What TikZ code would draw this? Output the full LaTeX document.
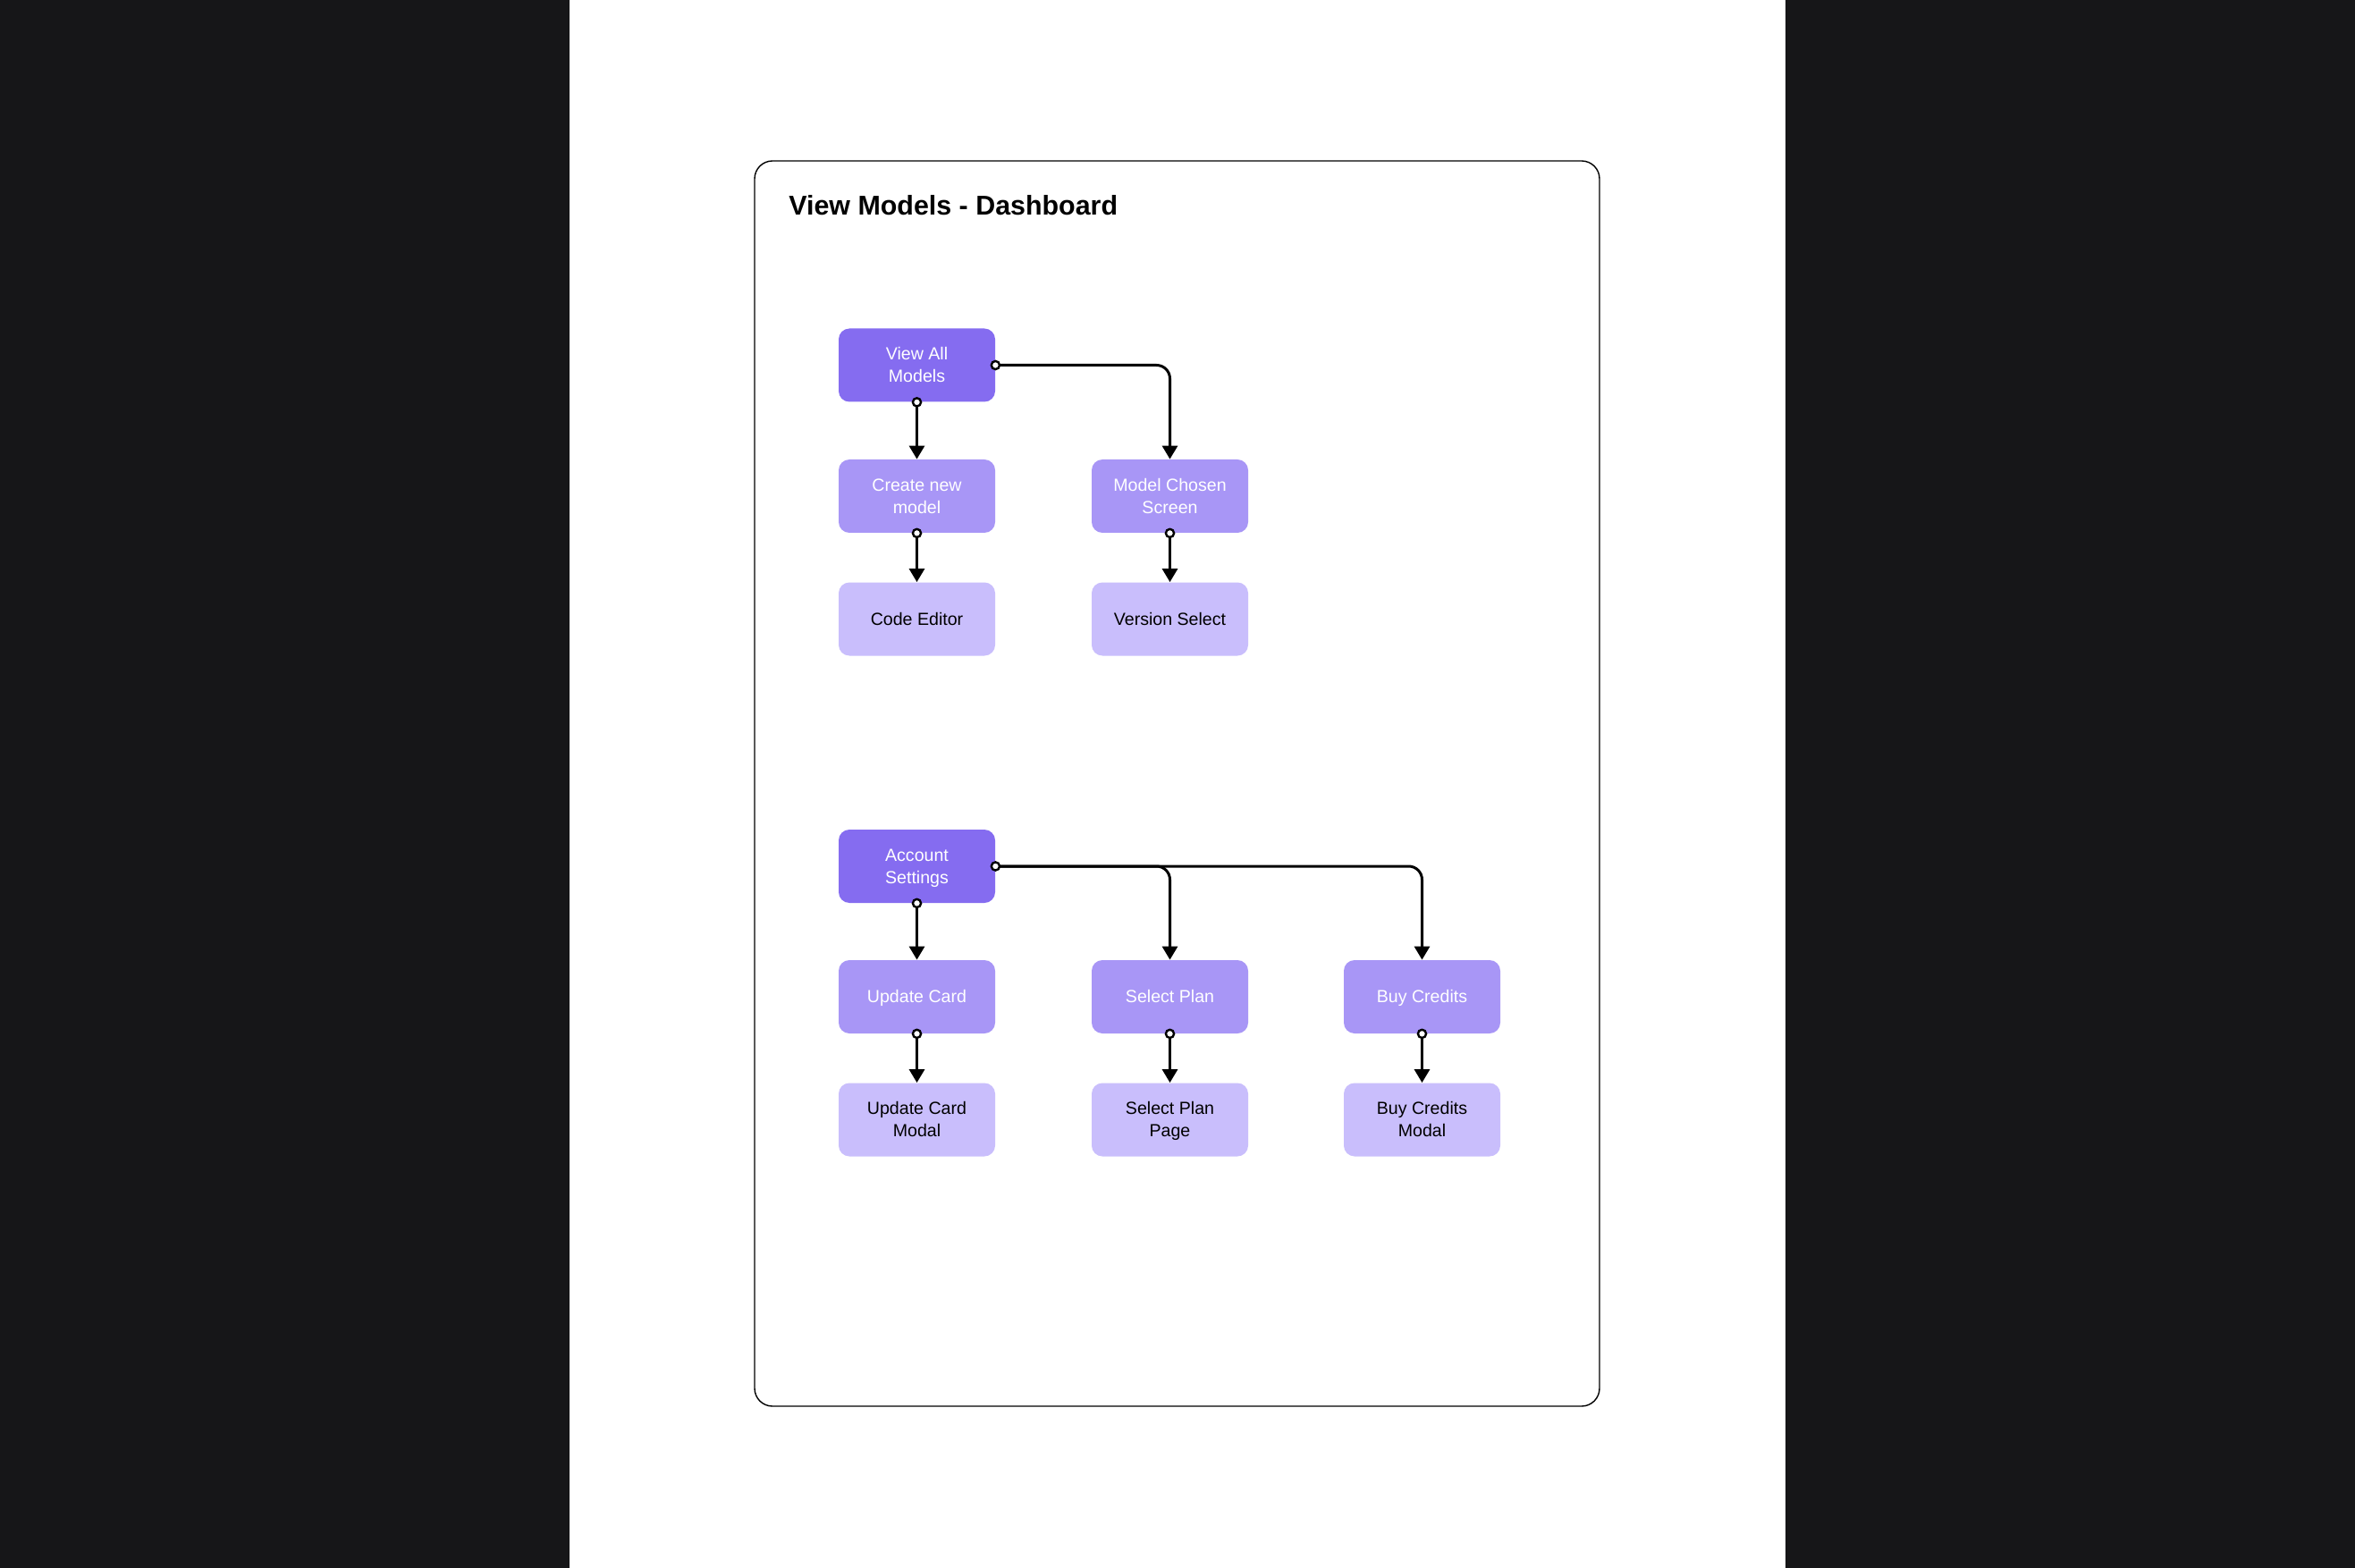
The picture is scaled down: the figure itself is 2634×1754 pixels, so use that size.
\documentclass[tikz,border=0pt]{standalone}
\usepackage{fontspec}
\setmainfont{Liberation Sans}
\usetikzlibrary{arrows.meta}
\definecolor{bgdark}{RGB}{22,22,24}
\definecolor{pdark}{RGB}{133,108,240}
\definecolor{pmid}{RGB}{168,150,246}
\definecolor{plight}{RGB}{201,190,252}
\newcommand{\lstrut}{\rule[-2.3pt]{0pt}{11.47pt}}
\tikzset{
  box/.style={rounded corners=6pt, minimum width=87.5pt, minimum height=41pt, inner sep=0pt, align=center, font=\fontsize{9.8pt}{12.5pt}\selectfont},
  topbox/.style={box, fill=pdark, text=white},
  midbox/.style={box, fill=pmid, text=white},
  leafbox/.style={box, fill=plight, text=black},
  conn/.style={line width=1.5pt, rounded corners=7.5pt, -{Triangle[length=7.5pt,width=8.5pt]}},
  dot/.style={line width=1.2pt, fill=white}
}
\begin{document}
\begin{tikzpicture}[x={(0.5pt,0)}, y={(0,-0.5pt)}]
\useasboundingbox (0,0) rectangle (2634,1754);
\fill[bgdark] (0,0) rectangle (2634,1754);
\fill[white] (637,0) rectangle (1997,1754);
\draw[line width=0.7pt, rounded corners=10pt] (844,180) rectangle (1789,1573);
\node[anchor=base west, inner sep=0pt, font=\fontsize{15.2pt}{18pt}\selectfont\bfseries] (title) at (882,241) {View Models - Dashboard};

\node[topbox] (va) at (1025.5,408.5) {\lstrut View All\\\lstrut Models};
\node[midbox] (cn) at (1025.5,555) {\lstrut Create new\\\lstrut model};
\node[leafbox] (ce) at (1025.5,692.5) {\lstrut Code Editor};
\node[midbox] (mc) at (1308.5,555) {\lstrut Model Chosen\\\lstrut Screen};
\node[leafbox] (vs) at (1308.5,692.5) {\lstrut Version Select};

\node[topbox] (as) at (1025.5,969) {\lstrut Account\\\lstrut Settings};
\node[midbox] (uc) at (1025.5,1115) {\lstrut Update Card};
\node[leafbox] (ucm) at (1025.5,1252.5) {\lstrut Update Card\\\lstrut Modal};
\node[midbox] (sp) at (1308.5,1115) {\lstrut Select Plan};
\node[leafbox] (spp) at (1308.5,1252.5) {\lstrut Select Plan\\\lstrut Page};
\node[midbox] (bc) at (1590.5,1115) {\lstrut Buy Credits};
\node[leafbox] (bcm) at (1590.5,1252.5) {\lstrut Buy Credits\\\lstrut Modal};

\draw[conn] (va.south) -- (cn.north);
\draw[conn] (cn.south) -- (ce.north);
\draw[conn] (va.east) -| (mc.north);
\draw[conn] (mc.south) -- (vs.north);
\draw[conn] (as.south) -- (uc.north);
\draw[conn] (as.east) -| (sp.north);
\draw[conn] (as.east) -| (bc.north);
\draw[conn] (uc.south) -- (ucm.north);
\draw[conn] (sp.south) -- (spp.north);
\draw[conn] (bc.south) -- (bcm.north);

\foreach \n in {va.south, va.east, cn.south, mc.south, as.south, as.east, uc.south, sp.south, bc.south}
  \draw[dot] (\n) circle (2.3pt);
\end{tikzpicture}
\end{document}
